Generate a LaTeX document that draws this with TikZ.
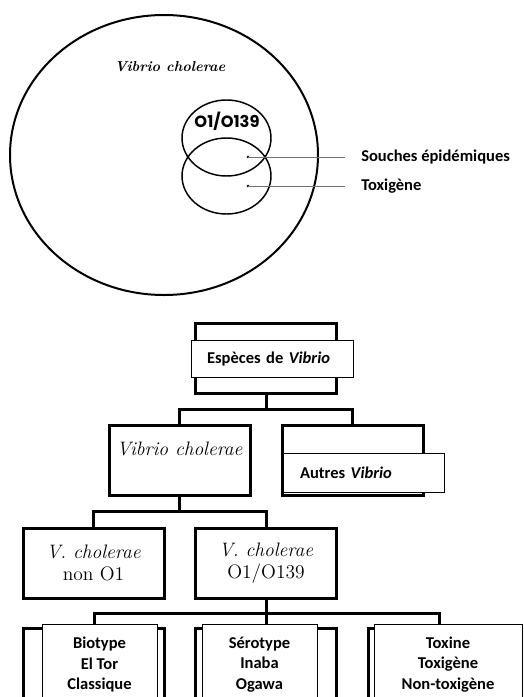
\documentclass[tikz,border=0pt]{standalone}
\usepackage{fontspec}
\newfontfamily\calib{Carlito}
\newfontfamily\geom{Poppins}
\usetikzlibrary{calc}
\newcommand\lblfont{\calib\bfseries\fontsize{12.4}{15.4}\selectfont}
\tikzset{
  tbox/.style  = {draw, line width=2.25pt, minimum width=105.75pt,
                  minimum height=52.5pt, inner sep=0pt, align=center},
  lbox/.style  = {draw, line width=0.75pt, fill=white, inner sep=0pt,
                  align=center, font=\lblfont},
  conn/.style  = {line width=2.25pt},
  ptr/.style   = {draw=black!55, line width=0.75pt, shorten >=12pt},
  sci/.style   = {font=\fontsize{14.6}{16.5}\selectfont},
  venn/.style  = {line width=1.1pt}
}

\begin{document}
\begin{tikzpicture}[x=0.75pt, y=-0.75pt]
  \useasboundingbox (0,0) rectangle (524,697);
  \clip (0,0) rectangle (524,697);

  % Venn diagram
  \draw[line width=1.5pt] (164,155) ellipse [x radius=154, y radius=140];
  \draw[venn] (226.5,138) ellipse [x radius=44.5, y radius=38];
  \draw[venn] (226.5,176) ellipse [x radius=44.5, y radius=38];
  \node[font=\bfseries\itshape\fontsize{10.8}{12}\selectfont]
    (vctitle) at (170,67) {Vibrio cholerae};
  \node[font=\geom\bfseries\fontsize{12.2}{14}\selectfont, inner sep=0pt]
    (sgroup) at (227,121) {O1/O139};
  \coordinate (dEpi) at (248,157);
  \coordinate (dTox) at (248,186);
  \node[font=\lblfont, anchor=west, inner sep=0pt]
    (lEpi) at (361,157) {Souches épidémiques};
  \node[font=\lblfont, anchor=west, inner sep=0pt]
    (lTox) at (361,186) {Toxigène};
  \fill (dEpi) circle (1pt);
  \fill (dTox) circle (1pt);
  \draw[ptr] (dEpi) -- (lEpi.west);
  \draw[ptr] (dTox) -- (lTox.west);

  % tree
  \node[tbox] (esp) at (266,358) {};
  \node[tbox, sci, text height=10pt, text depth=18pt]
    (vc) at (179.5,460.5) {\itshape Vibrio cholerae};
  \node[tbox] (aut) at (352.5,460.5) {};
  \node[tbox, sci] (non) at (93.5,563) {\textit{V. cholerae}\\non O1};
  \node[tbox, sci] (o1) at (266,563) {\textit{V. cholerae}\\O1/O139};
  \node[tbox, minimum height=63pt] (bbio)  at (94,670)  {};
  \node[tbox, minimum height=63pt] (bsero) at (266,670) {};
  \node[tbox, minimum height=63pt] (btox)  at (439,670) {};

  \coordinate (j1) at ($(esp.south)!0.5!(esp.south|-vc.north)$);
  \coordinate (j2) at ($(vc.south)!0.5!(vc.south|-non.north)$);
  \coordinate (j3) at ($(o1.south)!0.5!(o1.south|-bsero.north)$);
  \draw[conn] (esp.south) -- (j1);
  \draw[conn] (vc.north) |- (j1) -| (aut.north);
  \draw[conn] (vc.south) -- (j2);
  \draw[conn] (non.north) |- (j2) -| (o1.north);
  \draw[conn] (o1.south) -- (j3) -- (bsero.north);
  \draw[conn] (bbio.north) |- (j3) -| (btox.north);

  \node[lbox, text width=97.5pt, align=left, inner xsep=12pt,
        minimum height=27.75pt] (espl) at (272,358.5)
    {Espèces de \textit{Vibrio}};
  \node[lbox, text width=95.25pt, align=left, inner xsep=12.75pt,
        minimum height=29.25pt] (autl) at (363.5,472.5)
    {Autres \textit{Vibrio}};
  \node[lbox, anchor=north, minimum width=86.25pt, minimum height=60pt]
    (bio) at (99.5,624) {Biotype\\El Tor\\Classique};
  \node[lbox, anchor=north, minimum width=86.25pt, minimum height=60pt]
    (sero) at (259.5,624) {Sérotype\\Inaba\\Ogawa};
  \node[lbox, anchor=north, minimum width=111pt, minimum height=60pt]
    (tox) at (448,624) {Toxine\\Toxigène\\Non-toxigène};
\end{tikzpicture}
\end{document}
